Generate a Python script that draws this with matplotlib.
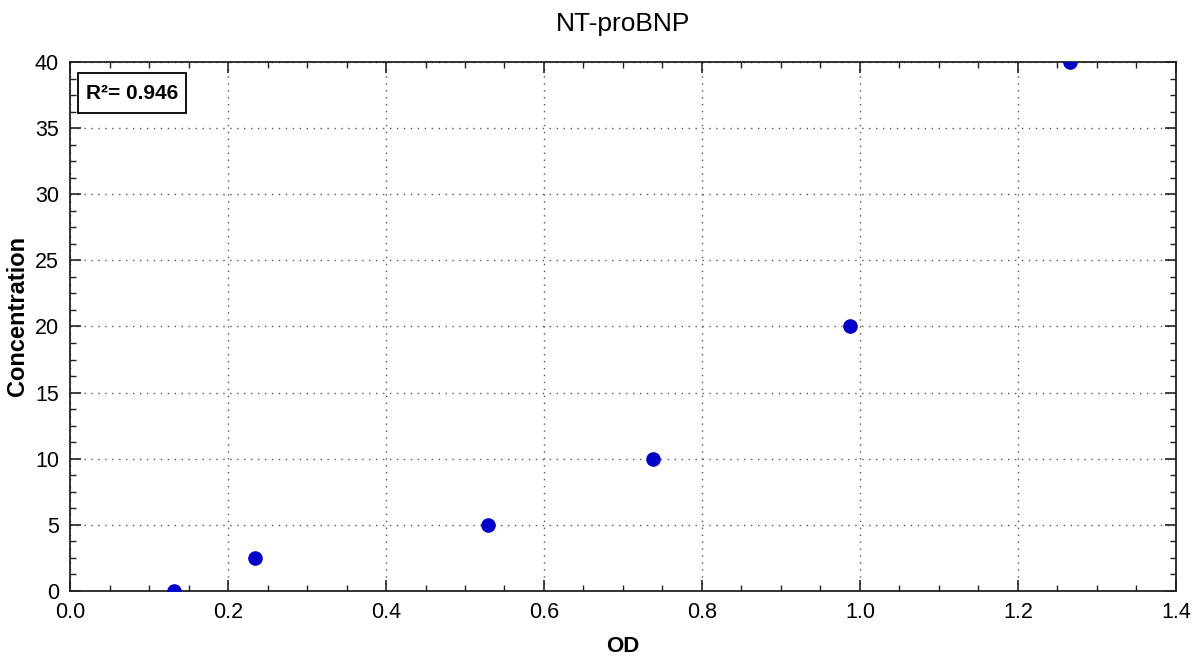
import matplotlib
matplotlib.use("Agg")
import matplotlib.pyplot as plt
from matplotlib.patches import Rectangle
from matplotlib.ticker import MultipleLocator, AutoMinorLocator, FormatStrFormatter

# standard curve points
od = [0.132, 0.234, 0.529, 0.738, 0.987, 1.266]
conc = [0.0, 2.5, 5.0, 10.0, 20.0, 40.0]
r2_text = "R²= 0.946"

plt.rcParams["font.family"] = ["Liberation Sans", "DejaVu Sans"]

fig = plt.figure(figsize=(11.93, 6.56), dpi=100)
ax = fig.add_axes([0.0587, 0.0991, 0.9270, 0.8064])

ax.plot(od, conc, "o", color="#0000c8", markersize=9.5, zorder=3)

ax.set_xlim(0, 1.4)
ax.set_ylim(0, 40)
ax.xaxis.set_major_locator(MultipleLocator(0.2))
ax.yaxis.set_major_locator(MultipleLocator(5))
ax.xaxis.set_minor_locator(AutoMinorLocator(4))
ax.yaxis.set_minor_locator(AutoMinorLocator(4))
ax.xaxis.set_major_formatter(FormatStrFormatter("%.1f"))

ax.tick_params(which="both", direction="in", top=True, right=True,
               labelsize=15.5, color="#222222")
ax.tick_params(which="major", length=8, width=1.2)
ax.tick_params(axis="x", which="major", pad=8)
ax.tick_params(axis="y", which="major", pad=8)
ax.tick_params(which="minor", length=4, width=1.0)

for s in ax.spines.values():
    s.set_linewidth(1.3)
    s.set_color("#222222")

ax.grid(True, which="major", linestyle=(0, (1, 4)), color="#555555",
        linewidth=1.0)

ax.set_title("NT-proBNP", fontsize=19, pad=22)
ax.set_xlabel("OD", fontsize=16, fontweight="bold", labelpad=9)
ax.set_ylabel("Concentration", fontsize=17, fontweight="bold")
ax.yaxis.set_label_coords(-0.037, 0.52)

# R² box in the upper left corner
ax.add_patch(Rectangle((0.0072, 0.9036), 0.0977, 0.0754, transform=ax.transAxes,
                       facecolor="white", edgecolor="black", linewidth=1.3,
                       zorder=4))
ax.text(0.0560, 0.9413, r2_text, transform=ax.transAxes, fontsize=15,
        fontweight="bold", va="center", ha="center", zorder=5)

fig.savefig("out.png", dpi=100)
